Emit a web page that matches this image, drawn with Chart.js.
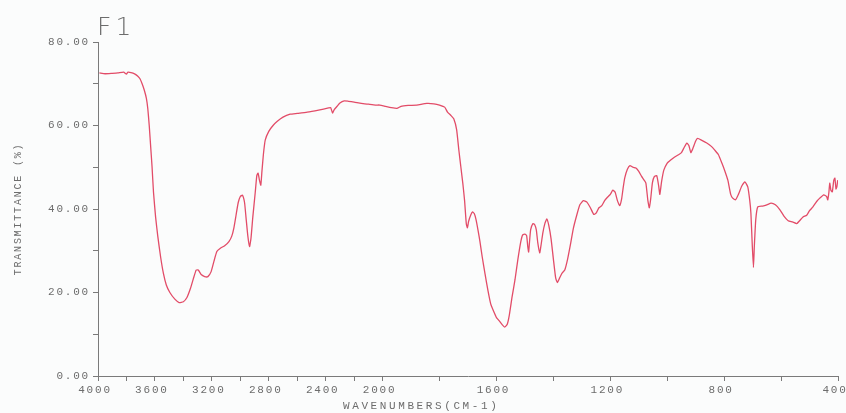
<!DOCTYPE html>
<html>
<head>
<meta charset="utf-8">
<script src="https://cdn.jsdelivr.net/npm/chart.js@4.4.1/dist/chart.umd.min.js"></script>
<style>
  html, body { margin: 0; padding: 0; background: #fbfcfc; }
  canvas { display: block; }
</style>
</head>
<body>
<canvas id="c" width="846" height="413"></canvas>
<script>
// ---- data ----
const wavenumbers = [
  3990, 3950, 3900, 3860, 3820, 3800, 3790, 3760, 3740, 3720, 3705, 3690, 3675, 3660, 3650, 3640, 3630, 3620, 3610, 3595,
  3580, 3560, 3540, 3520, 3495, 3460, 3430, 3400, 3375, 3350, 3330, 3310, 3295, 3275, 3250, 3228, 3205, 3185, 3165, 3140,
  3110, 3080, 3060, 3045, 3030, 3015, 3000, 2985, 2970, 2960, 2947, 2935, 2925, 2912, 2895, 2884, 2875, 2866, 2856, 2848,
  2838, 2825, 2800, 2770, 2740, 2700, 2650, 2600, 2530, 2450, 2380, 2365, 2352, 2340, 2320, 2300, 2270, 2240, 2200, 2150,
  2100, 2050, 2020, 1990, 1970, 1950, 1935, 1910, 1880, 1845, 1820, 1800, 1782, 1772, 1760, 1750, 1740, 1732, 1725, 1718,
  1712, 1706, 1702, 1698, 1690, 1684, 1678, 1672, 1665, 1658, 1650, 1640, 1630, 1620, 1610, 1600, 1590, 1580, 1571, 1562,
  1555, 1545, 1535, 1525, 1515, 1508, 1500, 1494, 1490, 1487, 1484, 1480, 1472, 1466, 1460, 1455, 1448, 1443, 1437, 1430,
  1423, 1416, 1408, 1400, 1392, 1386, 1378, 1370, 1360, 1350, 1340, 1330, 1318, 1307, 1295, 1283, 1270, 1258, 1250, 1240,
  1230, 1220, 1210, 1200, 1191, 1183, 1175, 1167, 1160, 1155, 1149, 1140, 1131, 1120, 1110, 1100, 1090, 1082, 1075, 1068,
  1063, 1058, 1052, 1045, 1037, 1030, 1026, 1020, 1012, 1000, 990, 975, 960, 950, 940, 931, 924, 917, 910, 900,
  893, 880, 861, 845, 833, 820, 808, 797, 787, 777, 770, 760, 750, 738, 727, 717, 710, 706, 701, 697,
  694, 689, 682, 665, 650, 635, 620, 604, 590, 575, 560, 545, 535, 523, 510, 500, 488, 475, 464, 450,
  440, 436, 432, 429, 425, 420, 415, 411, 407, 404, 401
];
const transmittance = [
  72.6, 72.4, 72.5, 72.6, 72.8, 72.3, 72.8, 72.6, 72.3, 71.8, 71.2, 70.0, 68.5, 66.5, 64.0, 60.0, 55.0, 50.0, 44.0, 38.0,
  33.5, 28.5, 24.5, 21.8, 20.0, 18.4, 17.6, 17.8, 18.8, 21.0, 23.3, 25.4, 25.4, 24.3, 23.8, 23.8, 25.0, 27.5, 29.8, 30.6,
  31.2, 32.2, 33.5, 35.5, 38.5, 41.5, 43.0, 43.3, 41.5, 38.0, 33.5, 31.0, 33.0, 38.1, 44.0, 48.0, 48.6, 47.0, 45.7, 49.0,
  53.0, 56.5, 58.6, 60.0, 61.0, 62.0, 62.7, 62.9, 63.2, 63.7, 64.2, 64.3, 63.0, 63.8, 64.6, 65.4, 65.9, 65.8, 65.6, 65.3,
  65.1, 64.9, 64.9, 64.6, 64.3, 64.1, 64.6, 64.8, 64.9, 65.3, 65.2, 64.9, 64.4, 63.2, 62.4, 61.6, 59.0, 54.0, 50.0, 46.0,
  42.0, 36.5, 35.5, 37.0, 38.6, 39.3, 38.9, 37.5, 35.0, 32.2, 28.5, 24.4, 20.5, 17.2, 15.5, 14.0, 13.2, 12.3, 11.7, 12.4,
  14.5, 19.0, 23.0, 27.8, 32.0, 33.8, 34.0, 33.6, 31.0, 29.7, 32.0, 35.0, 36.5, 36.3, 35.0, 32.0, 29.5, 31.5, 34.3, 36.5,
  37.6, 36.0, 32.8, 28.0, 23.5, 22.4, 23.5, 24.6, 25.4, 28.0, 31.5, 35.3, 38.5, 41.0, 42.0, 41.7, 40.3, 38.7, 39.0, 40.3,
  40.8, 42.0, 42.8, 43.5, 44.5, 44.0, 42.0, 40.8, 42.5, 45.0, 47.5, 49.5, 50.4, 50.0, 49.8, 49.0, 47.8, 47.0, 46.2, 42.0,
  40.3, 42.5, 46.3, 47.8, 48.0, 45.5, 43.5, 46.5, 49.3, 51.0, 51.6, 52.4, 53.0, 53.5, 54.8, 55.8, 55.2, 53.5, 54.5, 56.3,
  56.9, 56.5, 55.8, 55.0, 54.1, 53.0, 51.0, 49.0, 46.9, 43.5, 42.6, 42.2, 43.5, 45.5, 46.5, 45.3, 42.0, 39.0, 31.0, 26.0,
  31.0, 37.4, 40.5, 40.7, 41.0, 41.4, 41.0, 39.8, 38.3, 37.2, 36.9, 36.5, 37.2, 38.1, 38.5, 39.6, 40.5, 41.8, 42.6, 43.4,
  43.0, 42.2, 44.0, 46.2, 44.5, 44.1, 46.8, 47.4, 44.8, 45.3, 46.9
];
const xTickLabels = [4000, 3600, 3200, 2800, 2400, 2000, 1600, 1200, 800, 400];
const xTickStep = 200;
const yTickLabels = [0, 20, 40, 60, 80];
const chartTitle = 'F1';
const xTitle = 'WAVENUMBERS(CM-1)';
const yTitle = 'TRANSMITTANCE (%)';

// ---- styling ----
const TEXT = '#6c6c6c';
const AXIS = '#7a7a7a';
const LINE = 'rgb(226, 76, 104)';
const BG = '#fbfcfc';
const MONO = '"Liberation Mono", "DejaVu Sans Mono", monospace';
const BREAK_WN = 2000;   // scale doubles below this wavenumber
const EXPAND = 2;

// Custom scale: reversed wavenumber axis with 2x expansion below 2000 cm-1
class WavenumberScale extends Chart.LinearScale {
  _toU(v) {
    return v >= BREAK_WN ? (this.max - v) : (this.max - BREAK_WN) + EXPAND * (BREAK_WN - v);
  }
  _fromU(u) {
    const hi = this.max - BREAK_WN;
    return u <= hi ? this.max - u : BREAK_WN - (u - hi) / EXPAND;
  }
  buildTicks() {
    const ticks = [];
    for (let v = this.max; v >= this.min - 1e-9; v -= xTickStep) ticks.push({ value: v });
    return ticks;
  }
  getPixelForValue(value) {
    return this.getPixelForDecimal(this._toU(value) / this._toU(this.min));
  }
  getValueForPixel(pixel) {
    return this._fromU(this.getDecimalForPixel(pixel) * this._toU(this.min));
  }
}
WavenumberScale.id = 'wavenumber';
WavenumberScale.defaults = Chart.LinearScale.defaults;
Chart.register(WavenumberScale);

const decor = {
  id: 'decor',
  beforeDraw(chart) {
    const ctx = chart.ctx;
    ctx.save();
    ctx.fillStyle = BG;
    ctx.fillRect(0, 0, chart.width, chart.height);
    ctx.restore();
    ctx.letterSpacing = '1.8px';
  },
  afterDraw(chart) {
    const ctx = chart.ctx;
    ctx.save();
    ctx.fillStyle = TEXT;
    ctx.letterSpacing = '4px';
    ctx.font = '200 25px "DejaVu Sans", sans-serif';
    ctx.textAlign = 'left';
    ctx.textBaseline = 'alphabetic';
    ctx.fillText(chartTitle, chart.chartArea.left - 1, 35);
    ctx.letterSpacing = '2.6px';
    ctx.font = '11px ' + MONO;
    ctx.textBaseline = 'middle';
    ctx.fillText(xTitle, 343, 406);
    ctx.restore();
    ctx.letterSpacing = '0px';
  }
};

const points = wavenumbers.map((w, i) => ({ x: w, y: transmittance[i] }));

new Chart(document.getElementById('c'), {
  type: 'scatter',
  data: {
    datasets: [{
      data: points,
      showLine: true,
      borderColor: LINE,
      borderWidth: 1.3,
      pointRadius: 0,
      tension: 0.15,
      fill: false
    }]
  },
  options: {
    responsive: false,
    devicePixelRatio: 1,
    animation: false,
    layout: { padding: { top: 42, right: 8, left: 0, bottom: 0 } },
    plugins: { legend: { display: false }, tooltip: { enabled: false } },
    scales: {
      x: {
        type: 'wavenumber',
        position: 'bottom',
        min: 400,
        max: 4000,
        afterFit(s) { s.height = 37; s.paddingLeft = 0; s.paddingRight = 0; },
        grid: { drawOnChartArea: false, drawTicks: true, tickLength: 5, color: AXIS },
        border: { display: true, color: AXIS, width: 1 },
        ticks: {
          autoSkip: false, maxRotation: 0, minRotation: 0, padding: 2, labelOffset: -3,
          color: TEXT, font: { family: MONO, size: 11 },
          callback: (v) => xTickLabels.includes(v) ? String(v) : ''
        }
      },
      y: {
        type: 'linear',
        min: 0,
        max: 80,
        afterFit(s) { s.width = 98; s.paddingTop = 0; s.paddingBottom = 0; },
        grid: { drawOnChartArea: false, drawTicks: true, tickLength: 5, color: AXIS },
        border: { display: true, color: AXIS, width: 1 },
        ticks: {
          stepSize: 10, padding: 3, color: TEXT, font: { family: MONO, size: 11 },
          callback: (v) => yTickLabels.includes(v) ? v.toFixed(2) : ''
        },
        title: {
          display: true, text: yTitle, color: TEXT,
          font: { family: MONO, size: 10 }, padding: { top: 12, bottom: 0 }
        }
      }
    }
  },
  plugins: [decor]
});
</script>
</body>
</html>
